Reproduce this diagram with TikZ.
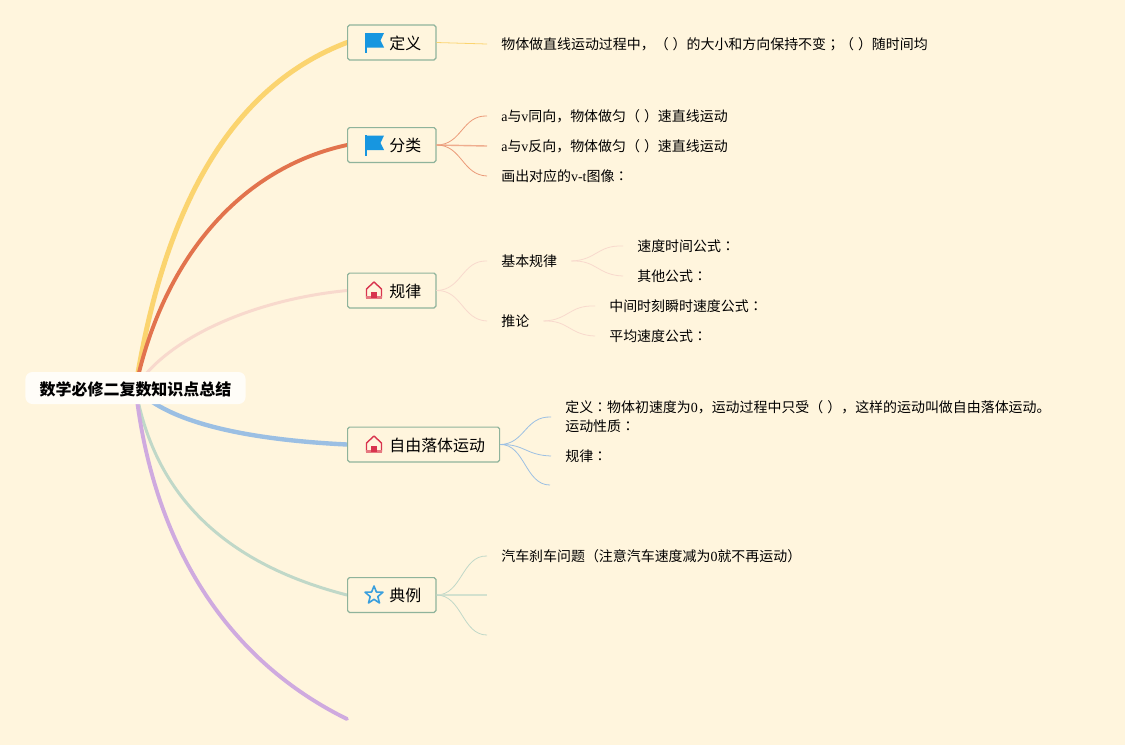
\documentclass[tikz,border=0pt]{standalone}
\usepackage{fontspec}
\setmainfont{Noto Sans CJK SC}
\newfontfamily\lat{Liberation Serif}
\newfontfamily\jpf{Noto Sans CJK JP}
\newcommand{\cln}{{\jpf ：}}
\newcommand{\smc}{{\jpf ；}}
\newcommand{\blank}{（\hspace{2.27pt}）}
\usetikzlibrary{backgrounds}
\definecolor{paper}{HTML}{FFF5DD}
\definecolor{boxline}{HTML}{8FB39B}
\definecolor{cyellow}{HTML}{FBD46F}
\definecolor{corange}{HTML}{E2734D}
\definecolor{cpink}{HTML}{F8D9CD}
\definecolor{cblue}{HTML}{9BBFE3}
\definecolor{cgreen}{HTML}{C0D8C8}
\definecolor{cpurple}{HTML}{CFAADF}
\definecolor{cflag}{HTML}{1796E0}
\definecolor{chouse}{HTML}{D8344E}
\definecolor{cstar}{HTML}{3A9FDD}
\tikzset{
	topic/.style={draw=boxline, line width=0.7pt, fill=paper, rounded corners=1pt, anchor=west, inner xsep=8.3pt, inner ysep=0pt, minimum height=19.8pt, text height=8.2pt, text depth=0.7pt, font=\fontsize{9.07pt}{11pt}\selectfont},
	item/.style={anchor=west, yshift=-0.57pt, inner xsep=7.94pt, inner ysep=0pt, align=left, font=\fontsize{7.94pt}{10.8pt}\selectfont},
	leaf/.style={line width=0.45pt},
	branch/.style={line cap=round},
	flagicon/.pic={
		\fill[cflag] (-18.5,-9.5) -- (0,-9.5) -- (-3.5,-2) -- (0,5) -- (-18.5,5) -- cycle;
		\fill[cflag] (-19,-10) rectangle (-17.5,10.5);
	},
	houseicon/.pic={
		\draw[chouse, line width=0.8pt, line join=round] (-17.5,7) -- (-17.5,-1.5) -- (-10,-8.5) -- (-2.5,-1.5) -- (-2.5,7);
		\fill[chouse!65!paper] (-18,5.5) rectangle (-2,8);
		\fill[chouse] (-12.7,1) rectangle (-7.3,7);
	},
	staricon/.pic={
		\draw[cstar, line width=0.9pt, line join=round] (-10,-9) -- (-7.6,-3) -- (-1,-2.8) -- (-6.2,1.5) -- (-4.5,8) -- (-10,4.3) -- (-15.5,8) -- (-13.8,1.5) -- (-19,-2.8) -- (-12.4,-3) -- cycle;
	}
}
\begin{document}
\begin{tikzpicture}[x=0.02cm,y=-0.02cm]
	\begin{scope}[on background layer]
		\fill[paper] (0,0) rectangle (1125,745);
	\end{scope}
	\useasboundingbox (0,0) rectangle (1125,745);

	\node (Root) at (135.5,388) [fill=white!80!paper, rounded corners=4pt, minimum width=125.3pt, minimum height=18.2pt, inner sep=0pt, text height=8.6pt, text depth=0pt, font=\fontsize{9.1pt}{11pt}\selectfont\bfseries]	{数学必修二复数知识点总结};

	\node (T1) at (347,42.5)	[topic]	{\hspace{15.5pt}定义};
	\node (T2) at (347,145)	[topic]	{\hspace{15.5pt}分类};
	\node (T3) at (347,290.5)	[topic]	{\hspace{15.5pt}规律};
	\node (T4) at (347,444.5)	[topic]	{\hspace{15.5pt}自由落体运动};
	\node (T5) at (347,595)	[topic]	{\hspace{15.5pt}典例};
	\coordinate (T6) at (347,719);

	\path (T1.west) ++(37,0) pic {flagicon};
	\path (T2.west) ++(37,0) pic {flagicon};
	\path (T3.west) ++(37,0) pic {houseicon};
	\path (T4.west) ++(37,0) pic {houseicon};
	\path (T5.west) ++(37,0) pic {staricon};

	\node (A1) at (487,43)	[item]	{物体做直线运动过程中，\blank 的大小和方向保持不变\smc\blank 随时间均};

	\node (B1) at (487,115)	[item]	{{\lat a}与{\lat v}同向，物体做匀\blank 速直线运动};
	\node (B2) at (487,145)	[item]	{{\lat a}与{\lat v}反向，物体做匀\blank 速直线运动};
	\node (B3) at (487,175)	[item]	{画出对应的{\lat v-t}图像\cln};

	\node (C1) at (487,260)	[item]	{基本规律};
	\node (C2) at (487,320)	[item]	{推论};
	\node (C3) at (623,245)	[item]	{速度时间公式\cln};
	\node (C4) at (623,275)	[item]	{其他公式\cln};
	\node (C5) at (595,305)	[item]	{中间时刻瞬时速度公式\cln};
	\node (C6) at (595,335)	[item]	{平均速度公式\cln};

	\node (D1) at (551,416)	[item]	{定义\cln 物体初速度为{\lat 0}，运动过程中只受\blank ，这样的运动叫做自由落体运动。\\运动性质\cln};
	\node (D2) at (551,455)	[item]	{规律\cln};
	\coordinate (D3) at (550,485);

	\node (E1) at (487,555)	[item]	{汽车刹车问题（注意汽车速度减为{\lat 0}就不再运动）};
	\coordinate (E2) at (487,595);
	\coordinate (E3) at (487,635);

	\begin{scope}[on background layer]
		\draw[branch, cyellow, line width=2.8pt] (Root.center) .. controls (165,200) and (235,85) .. (T1.west);
		\draw[branch, corange, line width=2.2pt] (Root.center) .. controls (160,270) and (232,170) .. (T2.west);
		\draw[branch, cpink, line width=1.7pt] (Root.center) .. controls (165,340) and (250,300) .. (T3.west);
		\draw[branch, cblue, line width=2.5pt] (Root.center) .. controls (170,425) and (255,440) .. (T4.west);
		\draw[branch, cgreen, line width=1.7pt] (Root.center) .. controls (155,500) and (230,565) .. (T5.west);
		\draw[branch, cpurple, line width=2.2pt] (Root.center) .. controls (153,545) and (227,660) .. (T6);
	\end{scope}

	\draw[leaf, cyellow] (T1.east) -- (A1.west);

	\draw[leaf, corange!70!paper] (T2.east) .. controls (462,145) and (462,115) .. (B1.west);
	\draw[leaf, corange!55!paper, line width=0.8pt] (T2.east) -- (B2.west);
	\draw[leaf, corange!70!paper] (T2.east) .. controls (462,145) and (462,175) .. (B3.west);

	\draw[leaf, cpink] (T3.east) .. controls (462,290) and (462,260) .. (C1.west);
	\draw[leaf, cpink] (T3.east) .. controls (462,290) and (462,320) .. (C2.west);
	\draw[leaf, cpink] (C1.east) .. controls (597,260) and (597,245) .. (C3.west);
	\draw[leaf, cpink] (C1.east) .. controls (597,260) and (597,275) .. (C4.west);
	\draw[leaf, cpink] (C2.east) .. controls (569,320) and (569,305) .. (C5.west);
	\draw[leaf, cpink] (C2.east) .. controls (569,320) and (569,335) .. (C6.west);

	\draw[leaf, cblue] (T4.east) .. controls (525,444) and (525,416) .. (D1.west);
	\draw[leaf, cblue] (T4.east) .. controls (525,444) and (525,455) .. (D2.west);
	\draw[leaf, cblue] (T4.east) .. controls (525,444) and (525,485) .. (D3);

	\draw[leaf, cgreen] (T5.east) .. controls (462,595) and (462,555) .. (E1.west);
	\draw[leaf, cgreen!70!paper, line width=0.8pt] (T5.east) -- (E2);
	\draw[leaf, cgreen] (T5.east) .. controls (462,595) and (462,635) .. (E3);
\end{tikzpicture}
\end{document}
